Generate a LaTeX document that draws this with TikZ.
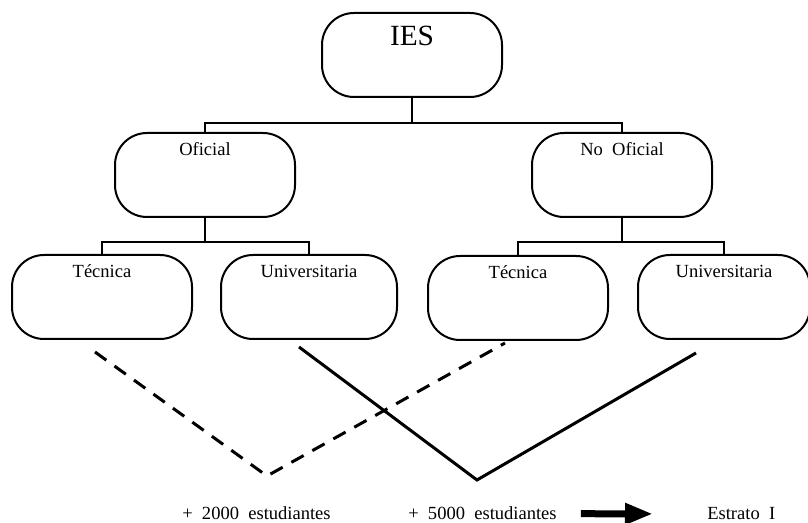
\documentclass[tikz,border=0pt]{standalone}
\usepackage{fontspec}
\setmainfont{Liberation Serif}
\usetikzlibrary{arrows.meta}

\begin{document}
\begin{tikzpicture}[x=0.75pt, y=-0.75pt,
        every node/.style={font=\fontsize{13.9}{16}\selectfont},
        caja/.style={draw, line width=1.5pt, rounded corners=24pt, minimum width=135pt, minimum height=63pt, inner sep=0pt},
        etiq/.style={anchor=base, yshift=-18pt},
        pie/.style={anchor=base west, inner sep=0pt},
        rama/.style={line width=1.5pt},
        via/.style={line width=2.25pt},
        flecha/.style={line width=5.25pt, -{Triangle[length=21pt, width=15pt]}}]
        \useasboundingbox (0,0) rectangle (808,523);
        % cajas
        \node[caja, label={[anchor=base, yshift=-25.5pt, font=\fontsize{22}{26}\selectfont]north:IES}] (ies) at (412,55) {};
        \node[caja, label={[etiq]north:Oficial}] (oficial) at (205,175) {};
        \node[caja, label={[etiq]north:No\ \ Oficial}] (nooficial) at (622,175) {};
        \node[caja, label={[etiq]north:Técnica}] (tecA) at (102,297) {};
        \node[caja, minimum width=132pt, label={[etiq]north:Universitaria}] (univA) at (309,297) {};
        \node[caja, label={[etiq]north:Técnica}] (tecB) at (518,298) {};
        \node[caja, minimum width=129pt, label={[etiq]north:Universitaria}] (univB) at (724,297) {};
        % ramas del arbol
        \coordinate (b0) at (412,123);
        \coordinate (b1) at (205,242);
        \coordinate (b2) at (622,242);
        \draw[rama] (ies) -- (b0);
        \draw[rama] (oficial.north) |- (b0) -| (nooficial.north);
        \draw[rama] (oficial) -- (b1);
        \draw[rama] (tecA.north) |- (b1) -| (univA.north);
        \draw[rama] (nooficial) -- (b2);
        \draw[rama] (tecB.north) |- (b2) -| (univB.north);
        % las dos V
        \coordinate (d1) at (95,352);
        \coordinate (d2) at (267,476);
        \coordinate (d3) at (505,343);
        \coordinate (s1) at (299,347);
        \coordinate (s2) at (477,480);
        \coordinate (s3) at (696,353);
        \draw[via, dash pattern=on 10.5pt off 7.5pt] (d1) -- (d2) -- (d3);
        \draw[via] (s1) -- (s2) -- (s3);
        % pie
        \node[pie] (dos) at (182,520) {+\ \ 2000\ \ estudiantes};
        \node[pie] (cinco) at (408,520) {+\ \ 5000\ \ estudiantes};
        \node[pie] (estrato) at (707,520) {Estrato\ \ I};
        \draw[flecha, shorten <=18pt, shorten >=40.5pt] (cinco.east) -- (estrato.west);
    \end{tikzpicture}
\end{document}
